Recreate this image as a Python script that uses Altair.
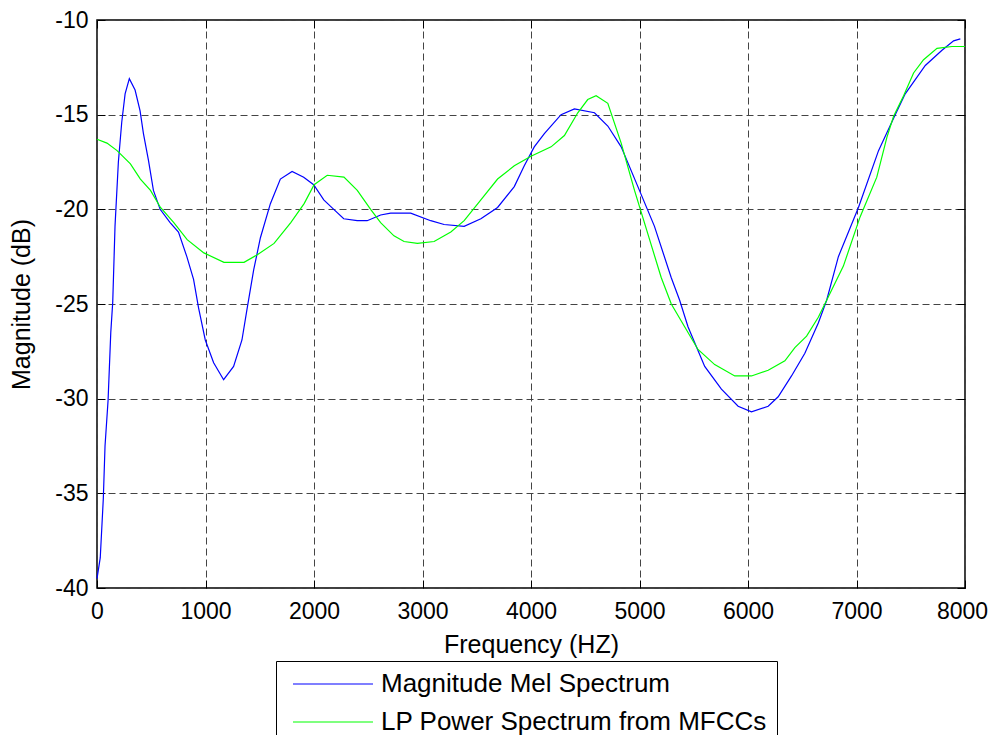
import altair as alt
import pandas as pd

# Magnitude Mel Spectrum (blue)
mel_hz = [0, 30, 58, 74, 102, 127, 145, 166, 197, 228, 259, 298, 351, 397, 428, 474, 520, 582, 674,
          751, 828, 890, 936, 998, 1075, 1167, 1259, 1336, 1382, 1444, 1506, 1598, 1690, 1798, 1905,
          1997, 2090, 2182, 2274, 2398, 2490, 2614, 2706, 2891, 3076, 3199, 3384, 3538, 3692, 3846,
          3938, 4030, 4123, 4277, 4400, 4585, 4708, 4831, 4985, 5138, 5292, 5370, 5447, 5601, 5755,
          5909, 6032, 6186, 6278, 6401, 6524, 6648, 6725, 6833, 7018, 7203, 7357, 7449, 7634, 7788,
          7895, 7957]
mel_db = [-39.5, -38.4, -35.3, -32.5, -30.1, -26.5, -24.9, -20.9, -17.5, -15.4, -13.9, -13.1, -13.7,
          -14.8, -16.0, -17.4, -19.0, -20.0, -20.7, -21.2, -22.5, -23.7, -25.2, -26.9, -28.1, -29.0,
          -28.3, -26.9, -25.3, -23.2, -21.5, -19.7, -18.4, -18.0, -18.3, -18.7, -19.5, -20.0, -20.5,
          -20.6, -20.6, -20.3, -20.2, -20.2, -20.6, -20.8, -20.9, -20.5, -19.9, -18.8, -17.7, -16.7,
          -16.0, -15.0, -14.7, -14.9, -15.6, -16.7, -18.8, -20.9, -23.6, -24.8, -26.2, -28.3, -29.5,
          -30.4, -30.7, -30.4, -29.9, -28.8, -27.6, -26.0, -24.8, -22.5, -19.9, -16.9, -15.0, -13.9,
          -12.4, -11.6, -11.1, -11.0]

# LP Power Spectrum from MFCCs (green)
lp_hz = [0, 92, 185, 308, 400, 493, 585, 708, 831, 985, 1170, 1355, 1478, 1632, 1786, 1909, 2001,
         2122, 2276, 2399, 2522, 2614, 2737, 2830, 2953, 3107, 3261, 3384, 3538, 3692, 3846, 4000,
         4185, 4308, 4431, 4523, 4600, 4708, 4831, 4954, 5077, 5200, 5293, 5416, 5539, 5693, 5878,
         6032, 6186, 6340, 6432, 6540, 6648, 6725, 6879, 7033, 7187, 7280, 7341, 7434, 7526, 7618,
         7742, 7880, 8000]
lp_db = [-16.3, -16.5, -16.9, -17.6, -18.4, -19.0, -19.9, -20.7, -21.6, -22.3, -22.8, -22.8, -22.4,
         -21.8, -20.7, -19.7, -18.7, -18.2, -18.3, -19.0, -20.0, -20.7, -21.4, -21.7, -21.8, -21.7,
         -21.2, -20.6, -19.5, -18.4, -17.7, -17.2, -16.7, -16.1, -14.9, -14.2, -14.0, -14.4, -16.5,
         -19.0, -21.3, -23.6, -25.0, -26.2, -27.4, -28.2, -28.8, -28.8, -28.5, -28.0, -27.3, -26.7,
         -25.7, -24.8, -23.0, -20.4, -18.3, -16.2, -15.1, -14.0, -12.8, -12.1, -11.5, -11.4, -11.4]

# the second legend entry starts with a (non-breaking) space, as in the original figure
series_names = ["Magnitude Mel Spectrum", "\u00a0LP Power Spectrum from MFCCs"]
series_colors = ["#0000ff", "#00ff00"]
x_ticks = [0, 1000, 2000, 3000, 4000, 5000, 6000, 7000, 8000]
y_ticks = [-40, -35, -30, -25, -20, -15, -10]

df = pd.concat([
    pd.DataFrame({"freq": mel_hz, "mag": mel_db, "series": series_names[0]}),
    pd.DataFrame({"freq": lp_hz, "mag": lp_db, "series": series_names[1]}),
])

FONT = "Liberation Sans"

xscale = alt.Scale(domain=[0, 8000], nice=False, zero=False)
yscale = alt.Scale(domain=[-40, -10], nice=False, zero=False)

lines = alt.Chart(df).mark_line(strokeWidth=1.2).encode(
    x=alt.X("freq:Q", scale=xscale, title="Frequency (HZ)",
            axis=alt.Axis(orient="bottom", values=x_ticks, grid=True, gridDash=[7, 4],
                          gridColor="#444444", gridOpacity=1, gridWidth=1, domain=False,
                          offset=-8, tickSize=8, tickColor="black", tickWidth=1,
                          labelPadding=12, labelFlush=False, labelOverlap=False,
                          labelOffset={"condition": {"test": "datum.value == 8000", "value": -3},
                                       "value": 0},
                          labelFont=FONT, labelFontSize=23, labelColor="black",
                          titleFont=FONT, titleFontSize=25, titleFontWeight="normal",
                          titleColor="black", titlePadding=9,
                          labelExpr="'' + datum.value")),
    y=alt.Y("mag:Q", scale=yscale, title="Magnitude (dB)",
            axis=alt.Axis(orient="left", values=y_ticks, grid=True, gridDash=[7, 4],
                          gridColor="#444444", gridOpacity=1, gridWidth=1, domain=False,
                          offset=-8, tickSize=8, tickColor="black", tickWidth=1,
                          labelPadding=9, labelFlush=False, labelOverlap=False,
                          labelFont=FONT, labelFontSize=23, labelColor="black",
                          titleFont=FONT, titleFontSize=25, titleFontWeight="normal",
                          titleColor="black", titlePadding=20,
                          labelExpr="'' + datum.value")),
    color=alt.Color("series:N",
                    scale=alt.Scale(domain=series_names, range=series_colors),
                    legend=alt.Legend(title=None, orient="none", legendX=179, legendY=641,
                                      strokeColor="black", fillColor="white", padding=10,
                                      symbolType="M-3.333,0H3.333", symbolSize=576,
                                      symbolStrokeWidth=1.2, symbolOffset=34, labelOffset=35,
                                      labelFont=FONT, labelFontSize=26, labelColor="black",
                                      labelLimit=1000, rowPadding=12)),
)

frame_ticks = alt.Chart(df).mark_line(opacity=0).encode(
    x=alt.X("freq:Q", scale=xscale, title=None,
            axis=alt.Axis(orient="top", values=x_ticks, grid=False, domain=False, labels=False,
                          offset=-8, tickSize=8, tickColor="black", tickWidth=1)),
    y=alt.Y("mag:Q", scale=yscale, title=None,
            axis=alt.Axis(orient="right", values=y_ticks, grid=False, domain=False, labels=False,
                          offset=-8, tickSize=8, tickColor="black", tickWidth=1)),
)

chart = alt.layer(lines, frame_ticks).resolve_axis(x="independent", y="independent").properties(
    width=868, height=568,
    autosize=alt.AutoSizeParams(type="none"),
    padding={"left": 89, "top": 12, "right": 23, "bottom": 147},
    background="white",
).configure_view(stroke="black", strokeWidth=1.5)

chart.save("out.html", embed_options={"renderer": "svg", "actions": False})
